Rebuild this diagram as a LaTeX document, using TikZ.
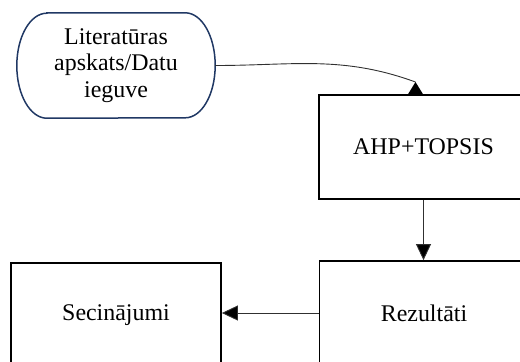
\documentclass[tikz,border=0pt]{standalone}
\usepackage{fontspec}
\setmainfont{Liberation Serif}
\usetikzlibrary{
  arrows.meta,
  positioning,
  calc,
}
\definecolor{termblue}{HTML}{203864}
\definecolor{linegray}{HTML}{303030}
\tikzset{
  terminal/.style={
    rectangle,
    minimum width=198bp,
    minimum height=105bp,
    align=center,
    font=\fontsize{24}{26.5}\selectfont
  },
  terminal_edge/.style={
    line width=1.5bp,
    draw=termblue,
  },
  stepbox/.style={
    rectangle,
    minimum width=209bp,
    minimum height=104bp,
    text centered,
    line width=1.8bp,
    draw=black,
    font=\fontsize{24}{26.5}\selectfont
  },
  arrow/.style={
    line width=0.9bp,
    draw=linegray,
    -{Triangle[length=16bp, width=15bp, fill=black]},
  },
}

\begin{document}
\begin{tikzpicture}[x=1bp, y=-1bp]

  \useasboundingbox (0,0) rectangle (520,361);
  \clip (0,0) rectangle (520,361);

  % Blocks
  \node (lit) [terminal] at (116,65.5) {Literatūras\\apskats/Datu\\ieguve};
  \node (ahp) [stepbox] at (423.5,147) {AHP+TOPSIS};
  \node (rez) [stepbox] at (424,313) {Rezultāti};
  \node (sec) [stepbox, minimum width=210bp] at (116,315) {Secinājumi};

  % Terminal outline with oval ends
  \draw [terminal_edge] ($(lit.north west)+(30,0)$) -- ($(lit.north east)+(-30,0)$)
    arc[start angle=-90, end angle=90, x radius=30, y radius=52.5]
    -- ($(lit.south west)+(30,0)$)
    arc[start angle=90, end angle=270, x radius=30, y radius=52.5] -- cycle;

  % Arrows
  \coordinate (lit_tip) at (415.5,82);
  \draw [line width=0.9bp, draw=linegray] (lit.east) to[out=0, in=160] (lit_tip);
  \fill (lit_tip) -- ++(8,13) -- ++(-16,0) -- cycle;

  \draw [arrow] (ahp.south) -- (ahp.south |- rez.north);
  \draw [arrow] (rez.west) -- (sec.east |- rez.west);

\end{tikzpicture}
\end{document}
